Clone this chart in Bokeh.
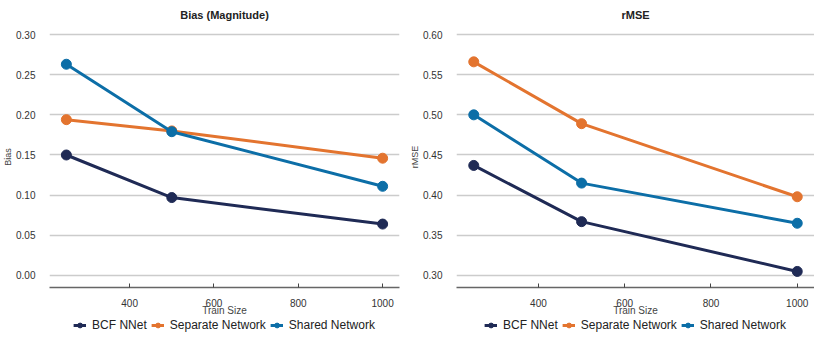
from bokeh.plotting import figure
from bokeh.layouts import row, column
from bokeh.models import Range1d, FixedTicker, Legend, LegendItem, NumeralTickFormatter
from bokeh.embed import file_html
from bokeh.resources import INLINE

train_size = [250, 500, 1000]
series_names = ["BCF NNet", "Separate Network", "Shared Network"]
colors = ["#1f2a55", "#e3742f", "#0c6ea7"]

bias_bcf = [0.150, 0.097, 0.064]
bias_separate = [0.194, 0.180, 0.146]
bias_shared = [0.263, 0.179, 0.111]

rmse_bcf = [0.437, 0.367, 0.305]
rmse_separate = [0.566, 0.489, 0.398]
rmse_shared = [0.500, 0.415, 0.365]

bias_ticks = [0.0, 0.05, 0.10, 0.15, 0.20, 0.25, 0.30]
rmse_ticks = [0.30, 0.35, 0.40, 0.45, 0.50, 0.55, 0.60]
x_ticks = [400, 600, 800, 1000]

FONT = "Liberation Sans"


def make_panel(title, ylabel, series, yr, yticks, left_border, right_border):
    p = figure(width=407, height=318, output_backend="svg", toolbar_location=None,
               x_range=Range1d(210, 1040), y_range=Range1d(*yr),
               min_border_left=left_border, min_border_right=right_border,
               min_border_top=0, min_border_bottom=0)
    p.outline_line_color = None
    p.background_fill_color = "white"
    p.title.text = title
    p.title.align = "center"
    p.title.text_font = FONT
    p.title.text_font_size = "11px"
    p.title.text_font_style = "bold"
    p.title.text_color = "#222222"
    p.title.standoff = 12

    p.xgrid.visible = False
    p.ygrid.grid_line_color = "#cccccc"
    p.ygrid.grid_line_width = 1.5

    p.yaxis.ticker = FixedTicker(ticks=yticks)
    p.yaxis.formatter = NumeralTickFormatter(format="0.00")
    p.yaxis.axis_line_color = None
    p.yaxis.major_tick_line_color = None
    p.yaxis.minor_tick_line_color = None
    p.yaxis.major_label_standoff = 8
    p.yaxis.axis_label = ylabel
    p.yaxis.axis_label_standoff = 0
    p.yaxis.axis_label_text_font = FONT
    p.yaxis.axis_label_text_font_size = "9px"
    p.yaxis.axis_label_text_font_style = "normal"
    p.yaxis.major_label_text_font = FONT
    p.yaxis.major_label_text_font_size = "10px"
    p.yaxis.major_label_text_color = "#333333"

    p.xaxis.ticker = FixedTicker(ticks=x_ticks)
    p.xaxis.axis_line_color = "#666666"
    p.xaxis.axis_line_width = 1.5
    p.xaxis.major_tick_in = 4
    p.xaxis.major_tick_out = 0
    p.xaxis.major_tick_line_color = "#444444"
    p.xaxis.minor_tick_line_color = None
    p.xaxis.major_label_standoff = 11
    p.xaxis.major_label_text_font = FONT
    p.xaxis.major_label_text_font_size = "10px"
    p.xaxis.major_label_text_color = "#333333"
    p.xaxis.axis_label = "Train Size"
    p.xaxis.axis_label_standoff = -5
    p.xaxis.axis_label_text_font = FONT
    p.xaxis.axis_label_text_font_size = "10px"
    p.xaxis.axis_label_text_font_style = "normal"

    for name, vals, c in zip(series_names, series, colors):
        p.line(train_size, vals, line_color=c, line_width=3)
        p.scatter(train_size, vals, size=10, fill_color=c, line_color=c, marker="circle")
    return p


def make_legend(series, left_border, right_border):
    # legend-only strip: the glyphs lie outside this strip's ranges, only their legend shows
    q = figure(width=407, height=22, output_backend="svg", toolbar_location=None,
               x_range=Range1d(-10, -5), y_range=Range1d(-10, -5),
               min_border_left=left_border, min_border_right=right_border,
               min_border_top=0, min_border_bottom=0)
    q.axis.visible = False
    q.grid.visible = False
    q.outline_line_color = None
    items = []
    for name, vals, c in zip(series_names, series, colors):
        l = q.line(train_size, vals, line_color=c, line_width=3)
        s = q.scatter(train_size, vals, size=10, fill_color=c, line_color=c, marker="circle")
        items.append(LegendItem(label=name, renderers=[l, s]))
    legend = Legend(items=items, orientation="horizontal", location="top_center")
    legend.border_line_color = None
    legend.background_fill_alpha = 0
    legend.label_text_font = FONT
    legend.label_text_font_size = "12px"
    legend.label_text_color = "#222222"
    legend.glyph_width = 13
    legend.glyph_height = 12
    legend.spacing = 4
    legend.label_standoff = 6
    legend.padding = 2
    legend.margin = 0
    q.add_layout(legend)
    return q


bias_series = [bias_bcf, bias_separate, bias_shared]
rmse_series = [rmse_bcf, rmse_separate, rmse_shared]

p1 = make_panel("Bias (Magnitude)", "Bias", bias_series, (-0.015, 0.31), bias_ticks, 37, 8)
p2 = make_panel("rMSE", "rMSE", rmse_series, (0.285, 0.61), rmse_ticks, 45, 0)
l1 = make_legend(bias_series, 37, 8)
l2 = make_legend(rmse_series, 45, 0)

layout = row(column(p1, l1, spacing=0), column(p2, l2, spacing=0), spacing=0)
open("out.html", "w").write(file_html(layout, INLINE))
